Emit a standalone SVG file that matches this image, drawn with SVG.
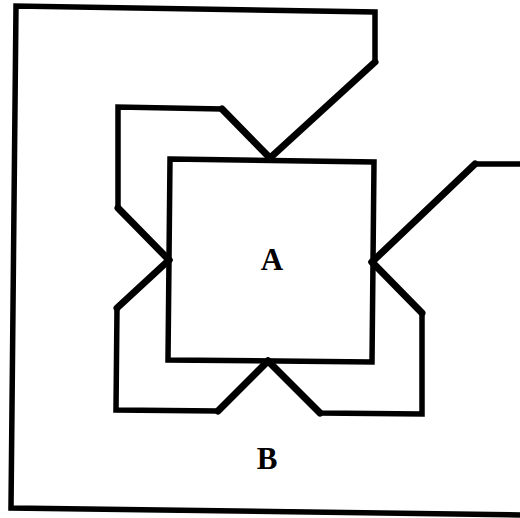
<svg xmlns="http://www.w3.org/2000/svg" width="520" height="518" viewBox="0 0 520 518">
  <style>
    .ln { fill: none; stroke: #000; stroke-width: 5.5; stroke-linejoin: miter; stroke-linecap: butt; }
    .dg { fill: none; stroke: #000; stroke-width: 7; stroke-linecap: round; }
    .lbl { font-family: "Liberation Serif", "Times New Roman", serif; font-weight: bold; font-size: 31px; text-anchor: middle; fill: #000; }
  </style>
  <rect width="520" height="518" fill="#fff"/>
  <g id="region-B">
    <polyline class="ln" points="375,62 375,12 16,6 11,508 520,515"/>
    <line class="dg" x1="375" y1="62" x2="270" y2="158"/>
    <text class="lbl" x="267" y="469">B</text>
  </g>
  <g id="region-A">
    <polygon class="ln" points="170,159 374,162 372,362 168,360"/>
    <text class="lbl" x="272" y="270">A</text>
  </g>
  <g id="connectors">
    <polyline class="ln" points="270,158 222,109 118,107 118,208 169,260 117,308 116,410 218,411 268,361 320,413 422,414 422,313 372,262 475,164 520,164"/>
    <line class="dg" x1="270" y1="158" x2="222" y2="109"/>
    <line class="dg" x1="118" y1="208" x2="169" y2="260"/>
    <line class="dg" x1="169" y1="260" x2="117" y2="308"/>
    <line class="dg" x1="218" y1="411" x2="268" y2="361"/>
    <line class="dg" x1="268" y1="361" x2="320" y2="413"/>
    <line class="dg" x1="422" y1="313" x2="372" y2="262"/>
    <line class="dg" x1="372" y1="262" x2="475" y2="164"/>
  </g>
</svg>
